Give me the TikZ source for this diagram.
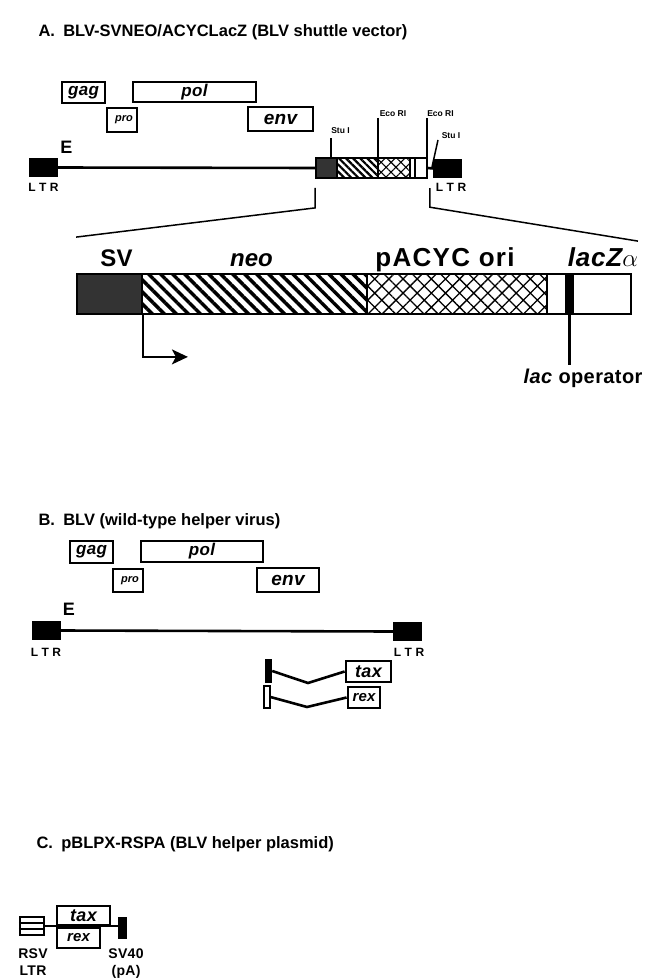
\documentclass[tikz,border=0pt]{standalone}
\usepackage{fontspec}
\setmainfont{Liberation Sans}
\usetikzlibrary{patterns.meta,arrows.meta}
\newcommand\fsz[1]{\fontsize{#1}{#1}\selectfont}
\newcommand\wide[1]{\addfontfeature{LetterSpace=#1}}
\tikzset{
  gene/.style={draw, line width=2.8pt, inner sep=0pt, font=\fsz{17}\bfseries\itshape\wide{2}},
  ltrbox/.style={fill=black, inner sep=0pt, minimum width=29pt, minimum height=19pt},
  seg/.style={draw, line width=1.8pt, inner sep=0pt},
  ttl/.style={anchor=base west, font=\fsz{16.5}\bfseries},
  lab/.style={font=\fsz{14}\bfseries\wide{2}},
  ltrlab/.style={font=\fsz{12}\bfseries},
  site/.style={font=\fsz{8.5}\bfseries},
  big/.style={anchor=base, font=\fsz{24}\bfseries},
  bb/.style={line width=2.6pt},
  thin/.style={line width=1.5pt}
}
\newcommand\LTR{L\hspace{3.5pt}T\hspace{3.5pt}R}
\begin{document}
\begin{tikzpicture}[x=1pt,y=-1pt]
\useasboundingbox (0,0) rectangle (648,979);
% A
\node[ttl] (titA) at (35,37) {A.\enspace BLV-SVNEO/ACYCLacZ (BLV shuttle vector)};
\node[gene, minimum width=43pt, minimum height=21pt] (gagA) at (83.5,92.5) {gag};
\node[gene, minimum width=123pt, minimum height=20pt] (polA) at (194.5,92) {pol};
\node[gene, minimum width=30pt, minimum height=24pt, font=\fsz{11}\bfseries\itshape] (proA) at (122,120) {\hspace{4pt}pro};
\node[gene, minimum width=65pt, minimum height=24pt, font=\fsz{19}\bfseries\itshape\wide{2}] (envA) at (280.5,119) {env};
\node[font=\fsz{18}\bfseries] (eA) at (66.5,147.5) {E};
\node[ltrbox] (ltrAl) at (43,167.5) {};
\node[seg, fill=black!80, minimum width=21pt, minimum height=20pt] (svA) at (326.5,168) {};
\node[seg, pattern={Lines[angle=-45,distance=5pt,line width=2.2pt]}, minimum width=41pt, minimum height=20pt] (neoA) at (357.5,168) {};
\node[seg, pattern={Hatch[angle=45,distance=7pt,line width=1.1pt]}, minimum width=32pt, minimum height=20pt] (oriA) at (394,168) {};
\node[seg, minimum width=17pt, minimum height=20pt] (lacA) at (418.5,168) {};
\draw[thin] ([xshift=-3.5pt]lacA.north) -- ([xshift=-3.5pt]lacA.south);
\node[ltrbox] (ltrAr) at (447.5,168.5) {};
\draw[bb] (ltrAl.east) -- (svA.west);
\draw[bb] (lacA.east) -- (ltrAr.west);
\node[ltrlab] (ltrAlab) at (43.5,187) {\LTR};
\node[ltrlab] (ltrArlab) at (451,187) {\LTR};
\node[site] (stuL) at (340.5,131) {Stu I};
\node[site] (ecoL) at (393,113.5) {Eco RI};
\node[site] (ecoR) at (440.5,113.5) {Eco RI};
\node[site] (stuR) at (451,135.5) {Stu I};
\coordinate (stuLt) at (331,138);
\coordinate (ecoLt) at (378,118);
\coordinate (ecoRt) at (427,118);
\coordinate (stuRt) at (438,140);
\draw[thin] (stuLt) -- (stuLt |- svA.north);
\draw[thin] (ecoLt) -- (ecoLt |- svA.north);
\draw[thin] (ecoRt) -- (ecoRt |- svA.north);
\draw[thin] (stuRt) -- (432,167);
% expanded insert
\node[seg, fill=black!80, minimum width=65pt, minimum height=40pt] (svB) at (109.5,294) {};
\node[seg, pattern={Lines[angle=-45,distance=8.5pt,line width=3.5pt]}, minimum width=225pt, minimum height=40pt] (neoB) at (254.5,294) {};
\node[seg, pattern={Hatch[angle=45,distance=10pt,line width=1.3pt]}, minimum width=180pt, minimum height=40pt] (oriB) at (457,294) {};
\node[seg, minimum width=84pt, minimum height=40pt] (lacB) at (589,294) {};
\node[fill=black, inner sep=0pt, minimum width=9pt, minimum height=40pt] (opB) at (569.5,294) {};
\node[big] (svLab) at (116.5,266) {SV};
\node[big, font=\fsz{24}\bfseries\itshape] (neoLab) at (251.5,266) {neo};
\node[big, font=\fsz{26}\bfseries\wide{5}] (oriLab) at (445,266) {pACYC\,\,ori};
\node[big, font=\fsz{26}\bfseries\itshape\wide{3}] (lacLab) at (603,266) {lacZ$\alpha$};
\draw[thin] ([yshift=-9pt]svA.south west) -- ++(0,20) -- ([yshift=36pt]svB.north west);
\draw[thin] ([xshift=-3pt,yshift=-10pt]ltrAr.south west) -- ++(0,19) -- ([xshift=6pt,yshift=32pt]lacB.north east);
\draw[line width=1.8pt, -{Stealth[length=16pt,width=15pt,inset=4pt]}] (svB.south east) -- ++(0,42) -- ++(45,0);
\node[font=\fsz{20}\bfseries\wide{2}] (opLab) at (583,378) {\textit{lac} operator};
\draw[bb] (opB.south) -- (opB.south |- opLab.north);
% B
\node[ttl] (titB) at (35,525) {B.\enspace BLV (wild-type helper virus)};
\node[gene, minimum width=43pt, minimum height=22pt] (gagB) at (91.5,552) {gag};
\node[gene, minimum width=122pt, minimum height=21pt] (polB) at (202,551.5) {pol};
\node[gene, minimum width=30pt, minimum height=23pt, font=\fsz{11}\bfseries\itshape] (proB) at (128,580.5) {\hspace{4pt}pro};
\node[gene, minimum width=62pt, minimum height=24pt, font=\fsz{19}\bfseries\itshape\wide{2}] (envB) at (288,580) {env};
\node[font=\fsz{18}\bfseries] (eB) at (69,609) {E};
\node[ltrbox] (ltrBl) at (46.5,630.5) {};
\node[ltrbox] (ltrBr) at (407.5,631.5) {};
\draw[bb] (ltrBl.east) -- (ltrBr.west);
\node[ltrlab] (ltrBllab) at (46,652) {\LTR};
\node[ltrlab] (ltrBrlab) at (409,652) {\LTR};
\node[fill=black, draw, line width=1.4pt, inner sep=0pt, minimum width=6pt, minimum height=22pt] (taxEx) at (268.5,671) {};
\node[gene, minimum width=45pt, minimum height=21pt, font=\fsz{18}\bfseries\itshape\wide{2}] (taxB) at (368.5,671.5) {tax};
\coordinate (taxMid) at (308,683);
\draw[bb] (taxEx.east) -- (taxMid) -- (taxB.west);
\node[draw, line width=2pt, inner sep=0pt, minimum width=6pt, minimum height=22pt] (rexEx) at (266.5,697) {};
\node[gene, minimum width=32pt, minimum height=21pt, font=\fsz{15}\bfseries\itshape\wide{1}] (rexB) at (364,697.5) {rex};
\coordinate (rexMid) at (307,707);
\draw[bb] (rexEx.east) -- (rexMid) -- (rexB.west);
% C
\node[ttl] (titC) at (33,848) {C.\enspace pBLPX-RSPA (BLV helper plasmid)};
\node[draw, line width=2.4pt, inner sep=0pt, minimum width=24pt, minimum height=18pt] (rsv) at (32,926) {};
\draw[thin] ([yshift=3pt]rsv.west) -- ([yshift=3pt]rsv.east);
\draw[thin] ([yshift=-3pt]rsv.west) -- ([yshift=-3pt]rsv.east);
\node[fill=black, inner sep=0pt, minimum width=9pt, minimum height=22pt] (svC) at (122.5,928) {};
\draw[bb] (rsv.east) -- (rsv.east -| svC.west);
\node[gene, fill=white, minimum width=53pt, minimum height=19pt, font=\fsz{18}\bfseries\itshape\wide{2}] (taxC) at (83.5,915.5) {tax};
\node[gene, fill=white, minimum width=43pt, minimum height=20pt, font=\fsz{15}\bfseries\itshape\wide{1}] (rexC) at (78.5,938) {rex};
\node[lab, align=center] (rsvLab) at (33,962) {RSV\\[3pt]LTR};
\node[lab, align=center] (svLabC) at (126,964) {SV40\\[3pt](pA)};
\end{tikzpicture}
\end{document}
